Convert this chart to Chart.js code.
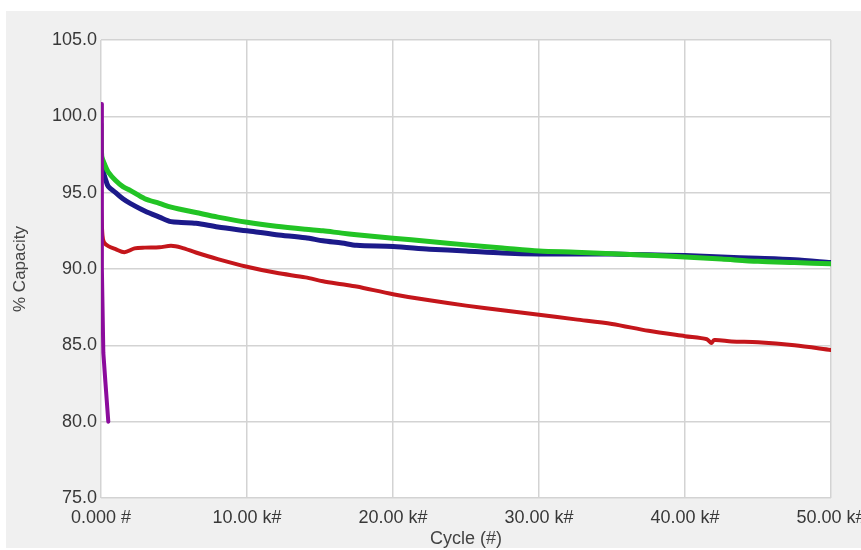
<!DOCTYPE html>
<html>
<head>
<meta charset="utf-8">
<script src="https://cdn.jsdelivr.net/npm/chart.js@4.4.1/dist/chart.umd.min.js"></script>
<style>
  html, body { margin: 0; padding: 0; background: #ffffff; }
  #wrap { position: absolute; left: 6px; top: 11px; width: 855px; height: 537px; background: #f0f0f0; }
</style>
</head>
<body>
<div id="wrap"><canvas id="myChart"></canvas></div>
<script>
// data
const xTickLabels = ['0.000 #', '10.00 k#', '20.00 k#', '30.00 k#', '40.00 k#', '50.00 k#'];

const greenCycles = [0, 50, 270, 500, 1000, 1500, 2000, 3000, 4000, 4800, 5500, 6500, 8000, 10000, 12000, 14000, 15200, 16500, 17500, 20000, 22500, 25000, 27500, 30000, 32500, 35000, 37500, 40000, 42500, 45000, 47500, 50000];
const greenCapacity = [99.5, 97.4, 96.8, 96.35, 95.8, 95.4, 95.15, 94.6, 94.3, 94.05, 93.9, 93.7, 93.4, 93.06, 92.8, 92.6, 92.5, 92.35, 92.25, 92.02, 91.8, 91.58, 91.38, 91.18, 91.1, 91.0, 90.9, 90.79, 90.65, 90.5, 90.42, 90.34];

const blueCycles = [0, 150, 300, 500, 1000, 1500, 2000, 3000, 4000, 4800, 5500, 6500, 8000, 10000, 12000, 14000, 15200, 16500, 17500, 20000, 22500, 25000, 27500, 30000, 32500, 35000, 37500, 40000, 42500, 45000, 47500, 50000];
const blueCapacity = [97.1, 96.4, 95.9, 95.4, 95.0, 94.6, 94.3, 93.8, 93.4, 93.1, 93.05, 93.0, 92.75, 92.5, 92.25, 92.05, 91.85, 91.7, 91.55, 91.47, 91.3, 91.18, 91.05, 90.98, 90.98, 90.98, 90.93, 90.88, 90.78, 90.7, 90.6, 90.42];

const redCycles = [0, 100, 200, 500, 1000, 1600, 2300, 3000, 4000, 4800, 5500, 6500, 8000, 10000, 12000, 14000, 15200, 16500, 17500, 20000, 22500, 25000, 27500, 30000, 32500, 35000, 37500, 40000, 41500, 41800, 42000, 43200, 45000, 47500, 50000];
const redCapacity = [94.1, 92.2, 91.75, 91.5, 91.3, 91.1, 91.35, 91.4, 91.42, 91.52, 91.4, 91.08, 90.65, 90.15, 89.75, 89.45, 89.2, 89.0, 88.85, 88.35, 87.95, 87.6, 87.3, 87.0, 86.7, 86.4, 85.95, 85.6, 85.4, 85.15, 85.35, 85.25, 85.2, 85.0, 84.7];

const purpleCycles = [0, 60, 160, 300, 500];
const purpleCapacity = [100.8, 90.0, 84.5, 82.6, 80.0];

function toPoints(xs, ys) {
  return xs.map(function (x, i) { return { x: x, y: ys[i] }; });
}

// white plot area on grey panel
const plotBackground = {
  id: 'plotBackground',
  beforeDraw(chart) {
    const { ctx, chartArea } = chart;
    ctx.save();
    ctx.fillStyle = '#ffffff';
    ctx.fillRect(chartArea.left, chartArea.top, chartArea.right - chartArea.left, chartArea.bottom - chartArea.top);
    ctx.restore();
  }
};

const font = "'Liberation Sans', Arial, sans-serif";
const ctx = document.getElementById('myChart');
const myChart = new Chart(ctx, {
  type: 'line',
  data: {
    datasets: [
      { label: 'Purple', data: toPoints(purpleCycles, purpleCapacity), borderColor: '#8b0c9c', borderWidth: 4, tension: 0 },
      { label: 'Green', data: toPoints(greenCycles, greenCapacity), borderColor: '#22c425', borderWidth: 5 },
      { label: 'Blue', data: toPoints(blueCycles, blueCapacity), borderColor: '#1c1a8a', borderWidth: 5 },
      { label: 'Red', data: toPoints(redCycles, redCapacity), borderColor: '#c4161b', borderWidth: 4 }
    ]
  },
  options: {
    responsive: true,
    maintainAspectRatio: false,
    animation: false,
    elements: {
      point: { radius: 0 },
      line: { tension: 0.3, borderCapStyle: 'round', borderJoinStyle: 'round' }
    },
    layout: {
      padding: { top: 29, right: 30, left: 0, bottom: 0 }
    },
    scales: {
      x: {
        type: 'linear',
        min: 0,
        max: 50000,
        border: { display: false },
        grid: { color: '#d3d3d3', lineWidth: 1.5, drawTicks: false },
        ticks: {
          stepSize: 10000,
          padding: 9,
          maxRotation: 0,
          color: '#383838',
          font: { family: font, size: 18 },
          callback: function (val, index) {
            return xTickLabels[index];
          }
        },
        title: {
          display: true,
          text: 'Cycle (#)',
          color: '#444444',
          font: { family: font, size: 18, lineHeight: 1 },
          padding: { top: 0, bottom: 0 }
        },
        afterFit: function (scale) {
          scale.height = 50;
          scale.paddingLeft = 0;
          scale.paddingRight = 0;
        }
      },
      y: {
        min: 75,
        max: 105,
        border: { display: false },
        grid: { color: '#d3d3d3', lineWidth: 1.5, drawTicks: false },
        ticks: {
          stepSize: 5,
          padding: 4,
          color: '#383838',
          font: { family: font, size: 18 },
          callback: function (val) {
            return val.toFixed(1);
          }
        },
        title: {
          display: true,
          text: '% Capacity',
          color: '#444444',
          font: { family: font, size: 17 },
          padding: { top: 4, bottom: 0 }
        },
        afterFit: function (scale) {
          scale.width = 95;
          scale.paddingTop = 0;
          scale.paddingBottom = 0;
        }
      }
    },
    plugins: {
      legend: { display: false },
      tooltip: { enabled: false }
    }
  },
  plugins: [plotBackground]
});
</script>
</body>
</html>
